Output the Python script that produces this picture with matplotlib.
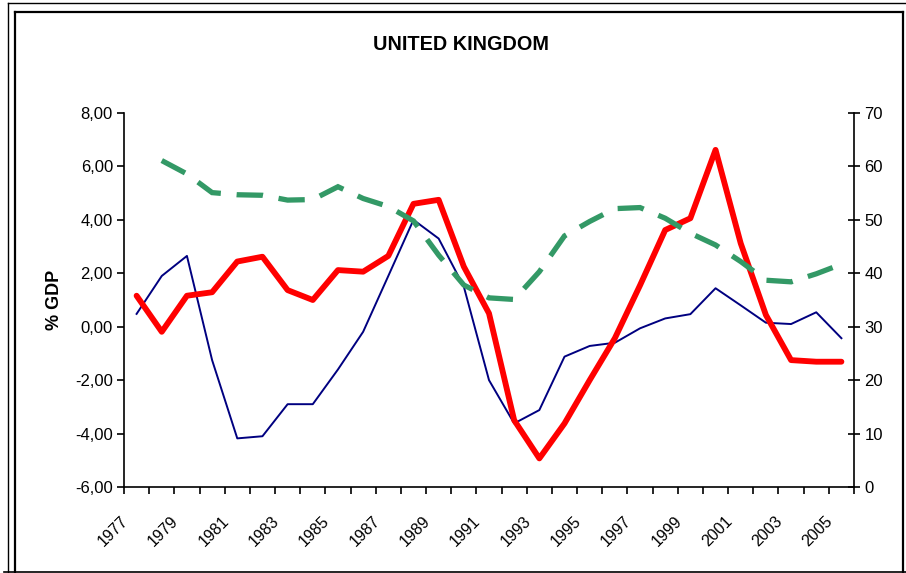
import numpy as np
import matplotlib
matplotlib.use('Agg')
import matplotlib.pyplot as plt
from matplotlib.ticker import FuncFormatter, FixedLocator
from matplotlib.transforms import ScaledTranslation
from matplotlib.lines import Line2D

plt.rcParams['font.family'] = ['Liberation Sans', 'DejaVu Sans']

years = list(range(1977, 2006))

# thin navy line, left axis (% GDP)
blue = [0.48, 1.90, 2.65, -1.25, -4.18, -4.10, -2.90, -2.90, -1.60, -0.19,
        1.90, 4.00, 3.30, 1.50, -2.00, -3.62, -3.12, -1.12, -0.72, -0.60,
        -0.06, 0.31, 0.47, 1.44, 0.80, 0.15, 0.10, 0.54, -0.43]

# thick red line, left axis (% GDP)
red = [1.16, -0.19, 1.16, 1.29, 2.44, 2.62, 1.37, 1.00, 2.12, 2.06,
       2.65, 4.60, 4.75, 2.25, 0.50, -3.50, -4.93, -3.62, -2.00, -0.43,
       1.55, 3.62, 4.06, 6.62, 3.12, 0.44, -1.25, -1.31, -1.31]

# green dashed line, right axis (starts 1978)
green = [np.nan, 61.1, 58.6, 55.1, 54.7, 54.6, 53.7, 53.8, 56.2, 54.0,
         52.5, 49.8, 43.4, 37.8, 35.4, 35.1, 40.3, 47.0, 49.7, 52.1,
         52.3, 50.3, 47.5, 45.3, 42.2, 38.7, 38.4, 39.9, 41.7]

left_ticks = [-6, -4, -2, 0, 2, 4, 6, 8]
right_ticks = [0, 10, 20, 30, 40, 50, 60, 70]

fig = plt.figure(figsize=(9.06, 5.73), dpi=100)
ax = fig.add_axes([124 / 906, 1 - 487 / 573, (854 - 124) / 906, (487 - 113) / 573])
ax2 = ax.twinx()

x = np.arange(len(years))
ax.plot(x, blue, color='#000080', linewidth=1.4, zorder=2)
ax.plot(x, red, color='#FF0000', linewidth=4.2, solid_joinstyle='round',
        solid_capstyle='round', zorder=3)
ax2.plot(x, green, color='#339966', linewidth=3.8, dashes=(5, 3),
         dash_capstyle='butt', dash_joinstyle='miter')

ax.set_xlim(-0.5, len(years) - 0.5)
ax.set_ylim(-6, 8)
ax2.set_ylim(0, 70)

ax.set_yticks(left_ticks)
ax.yaxis.set_major_formatter(FuncFormatter(lambda v, p: f'{v:.2f}'.replace('.', ',')))
ax2.set_yticks(right_ticks)

ax.xaxis.set_major_locator(FixedLocator(np.arange(-0.5, len(years), 1)))
ax.xaxis.set_major_formatter(FuncFormatter(lambda v, p: ''))
ax.set_xticks(x[::2], minor=True)
ax.set_xticklabels([str(y) for y in years[::2]], minor=True)
ax.tick_params(axis='x', which='major', direction='out', length=5, width=1.2)
ax.tick_params(axis='x', which='minor', length=0, pad=23)
ax.tick_params(axis='y', direction='out', length=5, width=1.2, labelsize=12, pad=3)
ax2.tick_params(axis='y', direction='inout', length=9, width=1.2, labelsize=12, pad=3)

for lbl in ax.get_xticklabels(minor=True):
    lbl.set_family(['Liberation Sans Narrow', 'Liberation Sans'])
    lbl.set_fontsize(11.5)
    lbl.set_rotation(45)
    lbl.set_ha('right')
    lbl.set_va('center')
    lbl.set_rotation_mode('anchor')
    lbl.set_transform(lbl.get_transform() + ScaledTranslation(-0.11, 0, fig.dpi_scale_trans))

for a in (ax, ax2):
    a.spines['top'].set_visible(False)
    for s in a.spines.values():
        s.set_linewidth(1.2)
ax.spines['right'].set_visible(False)
ax2.spines['left'].set_visible(False)
ax2.spines['bottom'].set_visible(False)

ax.set_ylabel('% GDP', fontsize=13, fontweight='bold', labelpad=9)
fig.text(461 / 906, 1 - 45 / 573, 'UNITED KINGDOM', ha='center', va='center',
         fontsize=14.3, fontweight='bold')

# chart frame lines
def px_line(x0, y0, x1, y1, lw):
    fig.add_artist(Line2D([x0 / 906, x1 / 906], [1 - y0 / 573, 1 - y1 / 573],
                          color='black', linewidth=lw, transform=fig.transFigure))

px_line(8, 3, 906, 3, 1.0)
px_line(8, 3, 8, 573, 1.0)
px_line(15, 12, 903, 12, 1.6)
px_line(15, 12, 15, 573, 1.6)
px_line(903, 12, 903, 573, 1.6)
px_line(4, 572, 906, 572, 1.2)

fig.savefig('out.png', dpi=100)
